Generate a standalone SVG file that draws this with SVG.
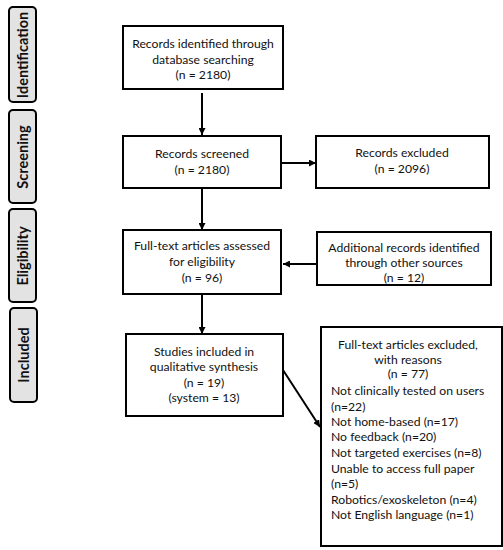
<svg xmlns="http://www.w3.org/2000/svg" width="503" height="550" viewBox="0 0 503 550">
<defs>
<marker id="ah" viewBox="0 0 10 10" refX="10" refY="5" markerWidth="7" markerHeight="7" markerUnits="userSpaceOnUse" orient="auto">
<path d="M0,0 L10,5 L0,10 z" fill="#000"/>
</marker>
<style>
.box{fill:#fff;stroke:#000;stroke-width:2}
.phase{fill:#e3e3e3;stroke:#000;stroke-width:2}
.t{font-family:"Lato","Liberation Sans",sans-serif;font-size:12.2px;fill:#111}
.c{text-anchor:middle}
.p{font-family:"Lato","Liberation Sans",sans-serif;font-size:14.5px;font-weight:bold;fill:#111;text-anchor:middle}
.ln{stroke:#000;stroke-width:2;fill:none;marker-end:url(#ah)}
</style>
</defs>
<rect width="503" height="550" fill="#fff"/>
<g id="phase-identification"><rect class="phase" x="9" y="7" width="27" height="95" rx="4"/><text class="p" transform="translate(28,55) rotate(-90)">Identification</text></g>
<g id="phase-screening"><rect class="phase" x="9" y="110" width="27" height="93" rx="4"/><text class="p" transform="translate(28,157) rotate(-90)">Screening</text></g>
<g id="phase-eligibility"><rect class="phase" x="9" y="209" width="27" height="93" rx="4"/><text class="p" transform="translate(28,256) rotate(-90)">Eligibility</text></g>
<g id="phase-included"><rect class="phase" x="10" y="308" width="27" height="94" rx="4"/><text class="p" transform="translate(29,355) rotate(-90)">Included</text></g>
<g id="identified"><rect class="box" x="123" y="26" width="160" height="63"/>
<text class="t c" x="203" y="48">Records identified through</text>
<text class="t c" x="203" y="64">database searching</text>
<text class="t c" x="203" y="79">(n = 2180)</text></g>
<g id="screened"><rect class="box" x="123" y="136" width="158" height="52"/>
<text class="t c" x="202" y="158">Records screened</text>
<text class="t c" x="202" y="174">(n = 2180)</text></g>
<g id="excluded"><rect class="box" x="316" y="136" width="173" height="52"/>
<text class="t c" x="402" y="157">Records excluded</text>
<text class="t c" x="402" y="173">(n = 2096)</text></g>
<g id="fulltext"><rect class="box" x="123" y="230" width="158" height="64"/>
<text class="t c" x="202" y="250">Full-text articles assessed</text>
<text class="t c" x="202" y="266">for eligibility</text>
<text class="t c" x="202" y="282">(n = 96)</text></g>
<g id="additional"><rect class="box" x="317" y="232" width="174" height="53"/>
<text class="t c" x="404" y="252">Additional records identified</text>
<text class="t c" x="404" y="267">through other sources</text>
<text class="t c" x="404" y="282">(n = 12)</text></g>
<g id="included"><rect class="box" x="126" y="334" width="157" height="82"/>
<text class="t c" x="204" y="356">Studies included in</text>
<text class="t c" x="204" y="371">qualitative synthesis</text>
<text class="t c" x="204" y="387">(n = 19)</text>
<text class="t c" x="204" y="402">(system = 13)</text></g>
<g id="ft-excluded"><rect class="box" x="321" y="327" width="181" height="219"/>
<text class="t c" x="408" y="349">Full-text articles excluded,</text>
<text class="t c" x="408" y="364">with reasons</text>
<text class="t c" x="408" y="378">(n = 77)</text>
<text class="t" x="331" y="395">Not clinically tested on users</text>
<text class="t" x="331" y="411">(n=22)</text>
<text class="t" x="331" y="426">Not home-based (n=17)</text>
<text class="t" x="331" y="441">No feedback (n=20)</text>
<text class="t" x="331" y="457">Not targeted exercises (n=8)</text>
<text class="t" x="331" y="473">Unable to access full paper</text>
<text class="t" x="331" y="488">(n=5)</text>
<text class="t" x="331" y="504">Robotics/exoskeleton (n=4)</text>
<text class="t" x="331" y="519">Not English language (n=1)</text></g>
<g id="connectors">
<line class="ln" x1="202" y1="93" x2="202" y2="135"/>
<line class="ln" x1="202" y1="188" x2="202" y2="230"/>
<line class="ln" x1="281" y1="163" x2="316" y2="163"/>
<line class="ln" x1="317" y1="264" x2="283" y2="264"/>
<line class="ln" x1="202" y1="294" x2="202" y2="334"/>
<line class="ln" x1="283" y1="370" x2="320" y2="427"/>
</g>
</svg>
